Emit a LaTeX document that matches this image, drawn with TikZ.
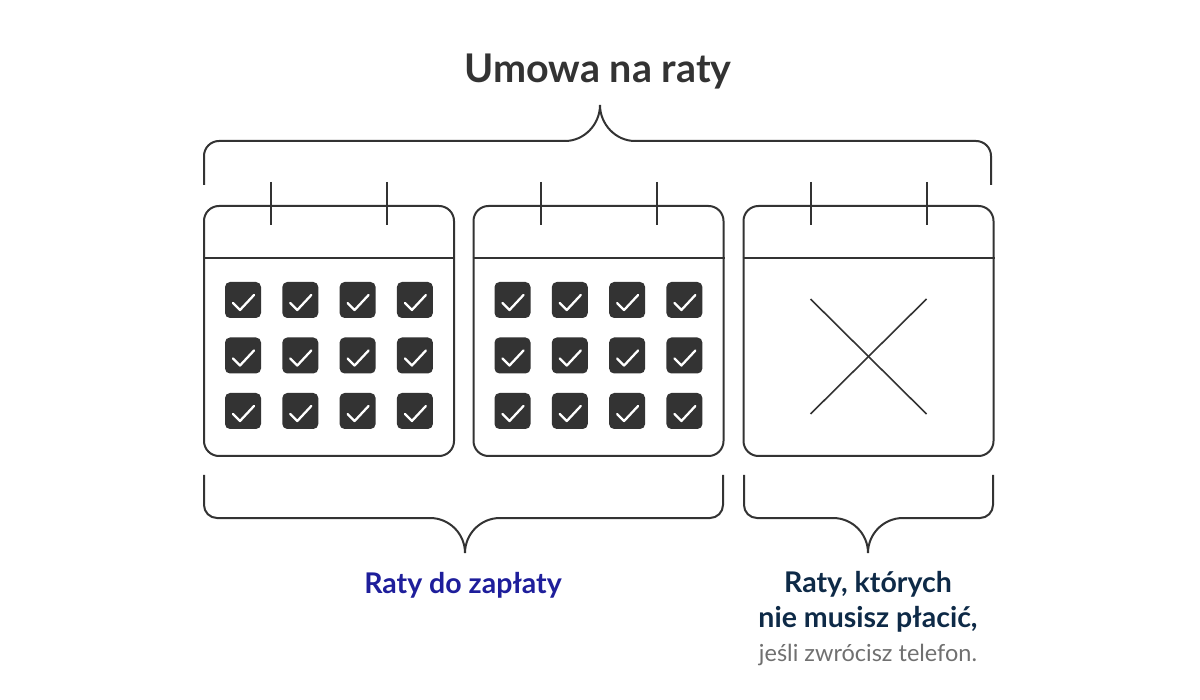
\documentclass[tikz,border=0pt]{standalone}
\usepackage{fontspec}
\setmainfont{Lato}
\usetikzlibrary{positioning,calc}
\definecolor{ink}{HTML}{333333}
\definecolor{payblue}{HTML}{1E1E9B}
\definecolor{navy}{HTML}{0E2A47}
\definecolor{note}{HTML}{707070}
\begin{document}
\begin{tikzpicture}[x=1pt,y=-1pt,line width=2pt,
  cal/.style={draw=ink,rounded corners=15pt,minimum width=250pt,minimum height=250pt,inner sep=0pt},
  tickbox/.style={fill=ink,rounded corners=5pt,minimum size=36pt,inner sep=0pt},
  ring/.style={draw=ink},
  brace/.style={draw=ink,rounded corners=13pt}]
\useasboundingbox (0,0) rectangle (1200,700);
% title
\node[text=ink,font=\bfseries\fontsize{39.5}{44}\selectfont] (title) at (598,72) {Umowa na raty};
% calendars
\node[cal] (cal1) at (329,331) {};
\node[cal] (cal2) at (598.5,331) {};
\node[cal] (cal3) at (868.5,331) {};
\foreach \c in {1,2,3}{
  \draw[ink] ($(cal\c.north west)+(0,53)$) -- ($(cal\c.north east)+(0,53)$);
  \draw[ring] ($(cal\c.north)+(-58,-23)$) -- ($(cal\c.north)+(-58,20)$);
  \draw[ring] ($(cal\c.north)+(58,-23)$) -- ($(cal\c.north)+(58,20)$);
}
% paid instalments
\foreach \c in {1,2}{
  \foreach \i in {1,...,4}{
    \foreach \j in {1,2,3}{
      \node[tickbox] (b\c-\i-\j) at ($(cal\c.center)+(-86+\i*57.3-57.3,-31+\j*55.5-55.5)$) {};
      \draw[white,line width=2.3pt,line cap=round,line join=round]
        ($(b\c-\i-\j)+(-10,3)$) -- ($(b\c-\i-\j)+(-3,10)$) -- ($(b\c-\i-\j)+(11,-5)$);
    }
  }
}
% cancelled
\draw[ink,line width=1.6pt] ($(cal3.center)+(-58,-32)$) -- ($(cal3.center)+(58,83)$);
\draw[ink,line width=1.6pt] ($(cal3.center)+(58,-32)$) -- ($(cal3.center)+(-58,83)$);
% braces
\coordinate (topL) at (204,185);
\coordinate (topR) at (991,185);
\coordinate (topM) at (600,105);
\draw[ink,rounded corners=15pt] (topL) |- (565,141);
\draw[ink] (565,141) .. controls (584.3,141) and (600,124.3) .. (topM)
  .. controls (600,124.3) and (615.7,141) .. (635,141);
\draw[ink,rounded corners=15pt] (635,141) -| (topR);
\coordinate (payL) at (204,475);
\coordinate (payR) at (723,475);
\coordinate (payM) at (465,553);
\draw[brace] (payL) |- (430,518);
\draw[ink] (430,518) .. controls (449.3,518) and (465,533.7) .. (payM)
  .. controls (465,533.7) and (480.7,518) .. (500,518);
\draw[brace] (500,518) -| (payR);
\coordinate (freeL) at (744,475);
\coordinate (freeR) at (993,475);
\coordinate (freeM) at (868,553);
\draw[brace] (freeL) |- (833,518);
\draw[ink] (833,518) .. controls (852.3,518) and (868,533.7) .. (freeM)
  .. controls (868,533.7) and (883.7,518) .. (903,518);
\draw[brace] (903,518) -| (freeR);
% labels
\node[text=payblue,font=\bfseries\fontsize{28.5}{33}\selectfont] (pay) at (463,585) {Raty do zapłaty};
\node[text=navy,font=\bfseries\fontsize{28.5}{35}\selectfont,align=center] (free) at (868,602) {Raty, których\\nie musisz płacić,};
\node[text=note,font=\fontsize{23.5}{27}\selectfont] (cond) at (868,655) {jeśli zwrócisz telefon.};
\end{tikzpicture}
\end{document}
